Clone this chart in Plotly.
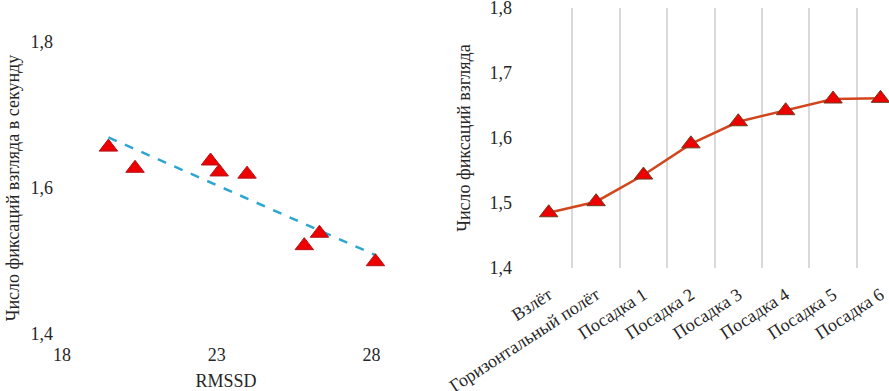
import numpy as np
import plotly.graph_objects as go

# Left chart: scatter RMSSD vs fixation rate
rmssd = [19.5, 20.36, 22.8, 23.08, 23.98, 25.83, 26.32, 28.13]
fix_rate = [1.656, 1.627, 1.637, 1.622, 1.619, 1.521, 1.538, 1.499]
left_xticks = [18, 23, 28]
left_yticks = [1.4, 1.6, 1.8]

# Right chart: fixations by flight phase
phases = ["Взлёт", "Горизонтальный полёт", "Посадка 1", "Посадка 2",
          "Посадка 3", "Посадка 4", "Посадка 5", "Посадка 6"]
phase_vals = [1.485, 1.502, 1.543, 1.591, 1.625, 1.642, 1.660, 1.661]
right_yticks = [1.4, 1.5, 1.6, 1.7, 1.8]

FONT = "Times New Roman, Liberation Serif, serif"
TXT = "#262626"
W, H = 889, 391

# linear trend from the data
k, b = np.polyfit(rmssd, fix_rate, 1)
tx = [min(rmssd), max(rmssd)]
ty = [k * v + b for v in tx]

fig = go.Figure()
fig.add_trace(go.Scatter(x=tx, y=ty, mode="lines", xaxis="x", yaxis="y",
                         line=dict(color="#2EA6D3", width=2.5, dash="dash"),
                         showlegend=False))
fig.add_trace(go.Scatter(x=rmssd, y=fix_rate, mode="markers", xaxis="x", yaxis="y",
                         marker=dict(symbol="triangle-up", size=16, color="#EE0000",
                                     line=dict(color="#B0141C", width=1)),
                         showlegend=False))
fig.add_trace(go.Scatter(x=phases, y=phase_vals, mode="lines+markers", xaxis="x2", yaxis="y2",
                         line=dict(color="#D2461E", width=2.5),
                         marker=dict(symbol="triangle-up", size=16, color="#EE0000",
                                     line=dict(color="#6E3A1E", width=1)),
                         cliponaxis=False, showlegend=False))

def px_x(p):
    return p / W

def px_y(p):
    return 1 - p / H

fig.update_layout(
    width=W, height=H,
    margin=dict(l=0, r=0, t=0, b=0, autoexpand=False),
    paper_bgcolor="white", plot_bgcolor="white",
    separators=", ",
    font=dict(family=FONT, size=18, color=TXT),
    xaxis=dict(domain=[px_x(62), px_x(390)], range=[18, 28.6], automargin=False,
               tickvals=left_xticks, showgrid=False, zeroline=False, showline=False,
               ticks="", ticklabelstandoff=8, anchor="y",
               title=dict(text="RMSSD", standoff=10, font=dict(size=18))),
    yaxis=dict(domain=[px_y(334), px_y(42)], range=[1.4, 1.8], automargin=False,
               tickvals=left_yticks, tickformat=".1f", showgrid=False, zeroline=False,
               showline=False, ticks="", ticklabelstandoff=8, anchor="x",
               title=dict(text="Число фиксаций взгляда в секунду", standoff=6,
                          font=dict(size=18))),
    xaxis2=dict(domain=[px_x(525), 1.0], range=[-0.5, 7.18], type="category",
                automargin=False,
                tickson="boundaries", showgrid=True, gridcolor="#D9D9D9", gridwidth=1.5,
                zeroline=False, showline=False, ticks="", tickangle=-33, anchor="y2",
                ticklabelstandoff=12),
    yaxis2=dict(domain=[px_y(268), px_y(8)], range=[1.4, 1.8], automargin=False,
                tickvals=right_yticks, tickformat=".1f", showgrid=False, zeroline=False,
                showline=False, ticks="", ticklabelstandoff=12, anchor="x2",
                ticklabeloverflow="allow",
                title=dict(text="Число фиксаций взгляда", standoff=14,
                           font=dict(size=18))),
)

fig.write_html("out.html", config={"displayModeBar": False},
               post_script="document.body.style.margin='0px';document.body.style.overflow='hidden';")
